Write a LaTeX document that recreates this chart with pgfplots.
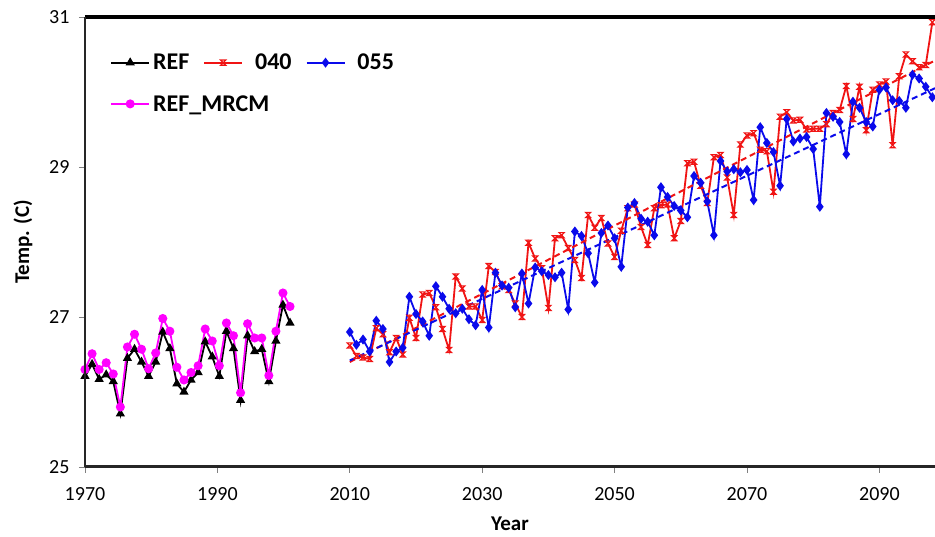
\documentclass[border=0pt]{standalone}
\usepackage{fontspec}
\setmainfont{Carlito}
\usepackage{pgfplots}
\usepackage{pgfplotstable}
\pgfplotsset{compat=1.18}

\definecolor{cred}{RGB}{240,20,20}
\definecolor{cblue}{RGB}{10,10,235}
\definecolor{cmag}{RGB}{255,0,255}

\pgfdeclareplotmark{hourglass}{%
  \pgfpathmoveto{\pgfqpoint{-\pgfplotmarksize}{\pgfplotmarksize}}%
  \pgfpathlineto{\pgfqpoint{\pgfplotmarksize}{\pgfplotmarksize}}%
  \pgfpathlineto{\pgfqpoint{-\pgfplotmarksize}{-\pgfplotmarksize}}%
  \pgfpathlineto{\pgfqpoint{\pgfplotmarksize}{-\pgfplotmarksize}}%
  \pgfpathclose
  \pgfusepathqstroke
}

\pgfplotstableread{
x ref mrcm
1970.00 26.21 26.30
1971.07 26.37 26.51
1972.14 26.17 26.30
1973.20 26.23 26.39
1974.27 26.14 26.24
1975.34 25.71 25.80
1976.41 26.45 26.60
1977.48 26.57 26.77
1978.54 26.40 26.57
1979.61 26.21 26.31
1980.68 26.40 26.52
1981.75 26.80 26.98
1982.82 26.58 26.81
1983.88 26.11 26.33
1984.95 26.00 26.16
1986.02 26.16 26.26
1987.09 26.26 26.35
1988.16 26.67 26.84
1989.22 26.47 26.68
1990.29 26.21 26.35
1991.36 26.81 26.92
1992.43 26.58 26.75
1993.50 25.89 25.99
1994.56 26.75 26.91
1995.63 26.54 26.72
1996.70 26.57 26.72
1997.77 26.14 26.22
1998.84 26.68 26.81
1999.90 27.16 27.32
2000.97 26.92 27.14
}\reftable

\pgfplotstableread{
x r040 b055
2010 26.62 26.80
2011 26.48 26.63
2012 26.46 26.70
2013 26.44 26.54
2014 26.85 26.95
2015 26.77 26.84
2016 26.53 26.40
2017 26.72 26.54
2018 26.50 26.59
2019 26.99 27.27
2020 26.72 27.04
2021 27.30 26.94
2022 27.32 26.75
2023 27.13 27.41
2024 26.84 27.27
2025 26.56 27.11
2026 27.54 27.05
2027 27.38 27.11
2028 27.14 26.97
2029 27.14 26.89
2030 26.96 27.36
2031 27.68 26.86
2032 27.60 27.59
2033 27.41 27.42
2034 27.36 27.39
2035 27.18 27.13
2036 27.00 27.58
2037 27.99 27.18
2038 27.78 27.66
2039 27.65 27.61
2040 27.12 27.56
2041 28.05 27.53
2042 28.09 27.59
2043 27.92 27.10
2044 27.76 28.14
2045 27.52 28.08
2046 28.36 27.85
2047 28.19 27.46
2048 28.32 28.12
2049 27.98 28.22
2050 27.80 28.05
2051 28.15 27.67
2052 28.45 28.46
2053 28.50 28.52
2054 28.20 28.31
2055 27.96 28.27
2056 28.45 28.09
2057 28.49 28.73
2058 28.50 28.60
2059 28.05 28.48
2060 28.28 28.42
2061 29.05 28.33
2062 29.07 28.88
2063 28.75 28.79
2064 28.52 28.54
2065 29.13 28.09
2066 29.16 29.08
2067 28.86 28.94
2068 28.36 28.97
2069 29.30 28.93
2070 29.42 28.96
2071 29.45 28.56
2072 29.23 29.53
2073 29.21 29.32
2074 28.67 29.20
2075 29.67 28.75
2076 29.73 29.64
2077 29.62 29.34
2078 29.63 29.38
2079 29.50 29.40
2080 29.51 29.24
2081 29.51 28.47
2082 29.57 29.72
2083 29.72 29.67
2084 29.76 29.60
2085 30.08 29.17
2086 29.64 29.87
2087 30.07 29.79
2088 29.49 29.60
2089 30.03 29.54
2090 30.10 30.03
2091 30.14 30.06
2092 29.29 29.89
2093 30.21 29.88
2094 30.50 29.79
2095 30.41 30.23
2096 30.33 30.18
2097 30.36 30.07
2098 30.93 29.93
}\futtable

\begin{document}
\begin{tikzpicture}
\begin{axis}[
  scale only axis, width=850pt, height=450pt,
  xmin=1970, xmax=2098.4, ymin=25, ymax=31,
  xtick={1970,1990,2010,2030,2050,2070,2090},
  ytick={25,27,29,31},
  tick align=outside, xtick pos=bottom, ytick pos=left,
  major tick length=6pt,
  tick style={gray, line width=0.8pt},
  axis line style={draw=none},
  /pgf/number format/1000 sep={},
  /pgf/number format/assume math mode=true,
  xticklabel style={font=\fontsize{20}{24}\selectfont, yshift=-11pt},
  yticklabel style={font=\fontsize{20}{24}\selectfont, xshift=-6pt},
  xlabel={Year}, ylabel={Temp. (C)},
  xlabel style={font=\bfseries\fontsize{21}{24}\selectfont, at={(axis description cs:0.5,-0.126)}, anchor=center},
  ylabel style={font=\bfseries\fontsize{21}{24}\selectfont, at={(axis description cs:-0.073,0.5)}, anchor=center},
  legend columns=3,
  legend style={draw=none, fill=none, at={(axis description cs:0.026,0.927)}, anchor=north west,
    font=\bfseries\fontsize{24}{28}\selectfont, row sep=20pt,
    /tikz/every odd column/.style={column sep=1pt},
    /tikz/every even column/.style={column sep=12pt}},
  legend cell align=left,
  legend image code/.code={\draw[mark repeat=2,mark phase=2] plot coordinates {(0pt,0pt) (19pt,0pt) (38pt,0pt)};},
]
\addplot[black, line width=1.8pt, mark=triangle*, mark size=3.6pt, mark options={solid}] table[x=x, y=ref] {\reftable};
\addlegendentry{REF}
\addplot[cred, line width=1.8pt, mark=hourglass, mark size=2.6pt, mark options={solid, line width=1.2pt}] table[x=x, y=r040] {\futtable};
\addlegendentry{\hspace{9pt}040}
\addplot[cblue, line width=1.8pt, mark=diamond*, mark size=3.6pt, mark options={solid}] table[x=x, y=b055] {\futtable};
\addlegendentry{\hspace{9pt}055}
\addplot[cmag, line width=1.8pt, mark=*, mark size=3.6pt, mark options={solid}] table[x=x, y=mrcm] {\reftable};
\addlegendentry{\rlap{REF\_MRCM}}
\addplot[cred, line width=2pt, dash pattern=on 6pt off 4pt, forget plot] coordinates {(2010,26.40) (2098.4,30.42)};
\addplot[cblue, line width=2pt, dash pattern=on 6pt off 4pt, forget plot] coordinates {(2010,26.42) (2098.4,30.05)};
\coordinate (BL) at (rel axis cs:0,0);
\coordinate (TR) at (rel axis cs:1,1);
\end{axis}
\draw[line width=3.5pt] (BL|-TR) -- (TR);
\draw[line width=3pt, black!85] (BL) -- (BL-|TR);
\draw[line width=2pt, black!85] (BL) -- (BL|-TR);
\pgfresetboundingbox
\path ([xshift=-85pt,yshift=-70pt]BL) rectangle ([yshift=17pt]TR);
\end{tikzpicture}
\end{document}
